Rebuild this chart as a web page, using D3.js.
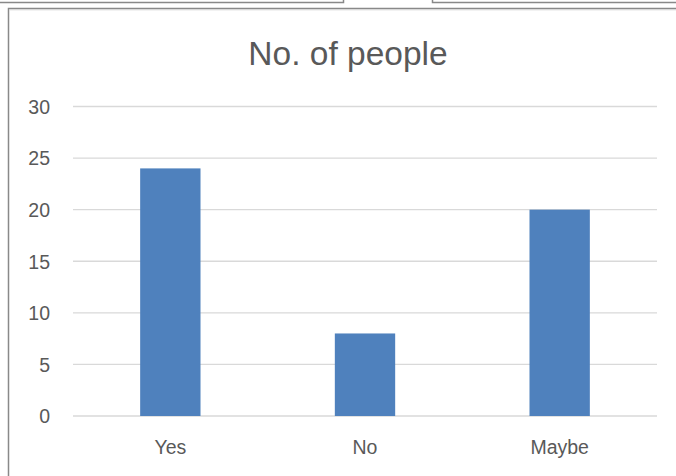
<!DOCTYPE html>
<html><head><meta charset="utf-8">
<script src="https://cdn.jsdelivr.net/npm/d3@7"></script>
<style>html,body{margin:0;padding:0;background:#fff;}svg{display:block;}</style>
</head><body>
<svg id="c" width="676" height="476"></svg>
<script>
const categories = ["Yes", "No", "Maybe"];
const values = [24, 8, 20];
const yTicks = [0, 5, 10, 15, 20, 25, 30];
const title = "No. of people";

const svg = d3.select("#c");
const W = 676, H = 476;
const font = "'Liberation Sans', Arial, sans-serif";
const textColor = "#595959";

// frame lines
const frame = svg.append("g").attr("fill", "none").attr("stroke", "#898989");
frame.append("path").attr("d", "M0,2.5H343.5V0").attr("stroke-width", 1.5);
frame.append("path").attr("d", "M676,2.5H432.5V0").attr("stroke-width", 1.5);
frame.append("path").attr("d", "M8.5,476V8.5H676").attr("stroke-width", 1.5);
svg.append("line").attr("x1", 9.5).attr("x2", 676).attr("y1", 9.8).attr("y2", 9.8)
  .attr("stroke", "#d4d4d4").attr("stroke-width", 1);

const x0 = 73, x1 = 657, yTop = 106.5, yBot = 416;
const x = d3.scaleBand().domain(categories).range([x0, x1]).paddingInner(0.69).paddingOuter(0.345);
const y = d3.scaleLinear().domain([0, 30]).range([yBot, yTop]);

// gridlines
svg.append("g").selectAll("line").data(yTicks).join("line")
  .attr("x1", x0).attr("x2", x1)
  .attr("y1", d => y(d)).attr("y2", d => y(d))
  .attr("stroke", "#d9d9d9").attr("stroke-width", 1.3);

// y axis labels
const yAxis = d3.axisLeft(y).tickValues(yTicks).tickSize(0).tickPadding(0);
const ya = svg.append("g").attr("transform", "translate(50,0)").call(yAxis);
ya.select(".domain").remove();
ya.selectAll("text").attr("font-family", font).attr("font-size", 19.5)
  .attr("fill", textColor).attr("dy", "0.35em");

// bars
svg.append("g").selectAll("rect").data(values).join("rect")
  .attr("x", (d, i) => x(categories[i]))
  .attr("width", x.bandwidth())
  .attr("y", d => y(d))
  .attr("height", d => y(0) - y(d))
  .attr("fill", "#4f81bd");

// x axis labels
const xAxis = d3.axisBottom(x).tickSize(0).tickPadding(0);
const xa = svg.append("g").attr("transform", "translate(0,440)").call(xAxis);
xa.select(".domain").remove();
xa.selectAll("text").attr("font-family", font).attr("font-size", 19.5)
  .attr("fill", textColor).attr("dy", "0.71em");

// title
svg.append("text").attr("x", 348).attr("y", 65).attr("text-anchor", "middle")
  .attr("font-family", font).attr("font-size", 33.5).attr("fill", textColor)
  .text(title);
</script>
</body></html>
